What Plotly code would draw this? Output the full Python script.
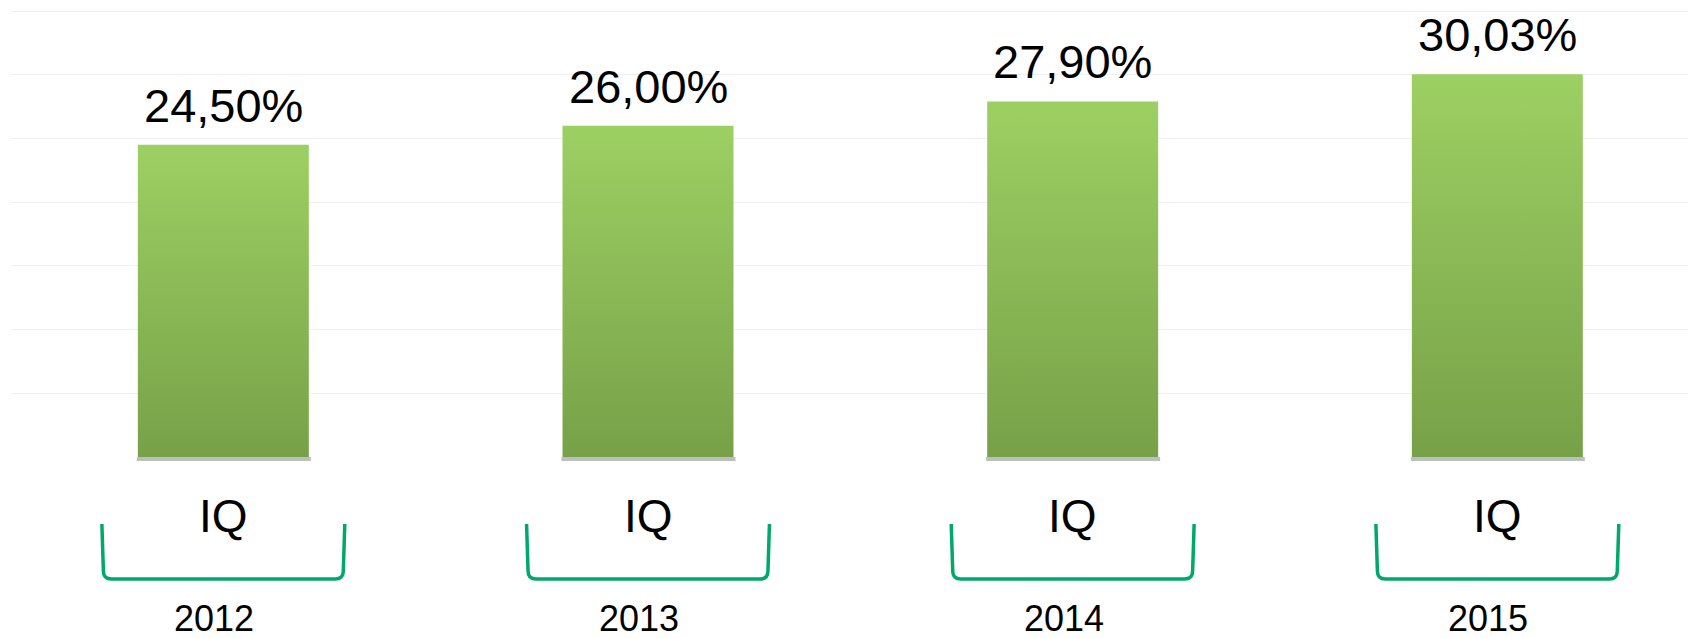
import plotly.graph_objects as go

# ---- data ----
years = ["2012", "2013", "2014", "2015"]
quarter_labels = ["IQ", "IQ", "IQ", "IQ"]
values = [24.50, 26.00, 27.90, 30.03]
value_labels = ["24,50%", "26,00%", "27,90%", "30,03%"]

# ---- style ----
TOP_COLOR = "#9DD063"
BOTTOM_COLOR = "#77A148"
BRACKET_COLOR = "#00A86B"
FONT = "Liberation Sans, Arial, sans-serif"
BAR_HALF = 0.2013          # half bar width in category units
BR_HALF = 0.286            # half bracket width in category units

# page body has an 8px margin, so the figure is drawn 8px smaller and offset
W, H = 1688, 630
M_L, M_R, M_T, M_B = 3, 0, 1, 181
plot_w = W - M_L - M_R
plot_h = H - M_T - M_B
cat_px = 424.67
x_range = [-0.5, -0.5 + plot_w / cat_px]
y_unit_px = 446 / 35.0
y_top = plot_h / y_unit_px

fig = go.Figure()

# bars drawn as gradient-filled rectangles (positions derived from data)
for i, v in enumerate(values):
    xs = [i - BAR_HALF, i + BAR_HALF, i + BAR_HALF, i - BAR_HALF, i - BAR_HALF]
    ys = [0, 0, v, v, 0]
    fig.add_trace(go.Scatter(
        x=xs, y=ys, mode="lines", fill="toself",
        line=dict(width=0, color="rgba(0,0,0,0)"),
        fillgradient=dict(type="vertical", start=0, stop=v,
                          colorscale=[[0, BOTTOM_COLOR], [1, TOP_COLOR]]),
        hoverinfo="skip", showlegend=False,
    ))

shapes = []
annotations = []
px_x = 1.0 / cat_px
px_y = 1.0 / plot_h
for i, v in enumerate(values):
    # soft shadow under bar
    shapes.append(dict(type="rect", xref="x", yref="paper",
                       x0=i - BAR_HALF - 1 * px_x, x1=i + BAR_HALF + 2 * px_x,
                       y0=-4 * px_y, y1=0,
                       fillcolor="rgba(110,110,110,0.45)", line=dict(width=0), layer="below"))
    # bracket
    ytop = -67 * px_y
    ybot = -122 * px_y
    r_x, r_y = 8 * px_x, 8 * px_y
    x0, x1 = i - BR_HALF, i + BR_HALF
    path = (f"M {x0},{ytop} L {x0 + 1.5*px_x},{ybot + r_y} "
            f"Q {x0 + 1.5*px_x},{ybot} {x0 + 1.5*px_x + r_x},{ybot} "
            f"L {x1 - 1.5*px_x - r_x},{ybot} Q {x1 - 1.5*px_x},{ybot} {x1 - 1.5*px_x},{ybot + r_y} "
            f"L {x1},{ytop}")
    shapes.append(dict(type="path", xref="x", yref="paper", path=path,
                       line=dict(color=BRACKET_COLOR, width=3.5)))

    annotations.append(dict(x=i, y=v, xref="x", yref="y", text=value_labels[i],
                            showarrow=False, yanchor="bottom", yshift=11,
                            font=dict(family=FONT, size=47, color="#000000")))
    annotations.append(dict(x=i, y=-31 * px_y, xref="x", yref="paper",
                            text=quarter_labels[i], showarrow=False, yanchor="top",
                            font=dict(family=FONT, size=46, color="#000000")))
    annotations.append(dict(x=i, y=-140 * px_y, xref="x", yref="paper",
                            text=years[i], showarrow=False, yanchor="top", xshift=-9,
                            borderpad=0,
                            font=dict(family=FONT, size=36, color="#000000")))

fig.update_layout(
    width=W, height=H,
    margin=dict(l=M_L, r=M_R, t=M_T, b=M_B, pad=0),
    paper_bgcolor="white", plot_bgcolor="white",
    showlegend=False,
    shapes=shapes, annotations=annotations,
    xaxis=dict(range=x_range, showgrid=False, zeroline=False, showticklabels=False,
               showline=False, ticks="", fixedrange=True),
    yaxis=dict(range=[0, y_top], dtick=5, showgrid=True, gridcolor="#F0F0F0", gridwidth=1,
               zeroline=False, showticklabels=False, ticks="", showline=False, fixedrange=True),
    font=dict(family=FONT),
)

fig.write_html("out.html")
